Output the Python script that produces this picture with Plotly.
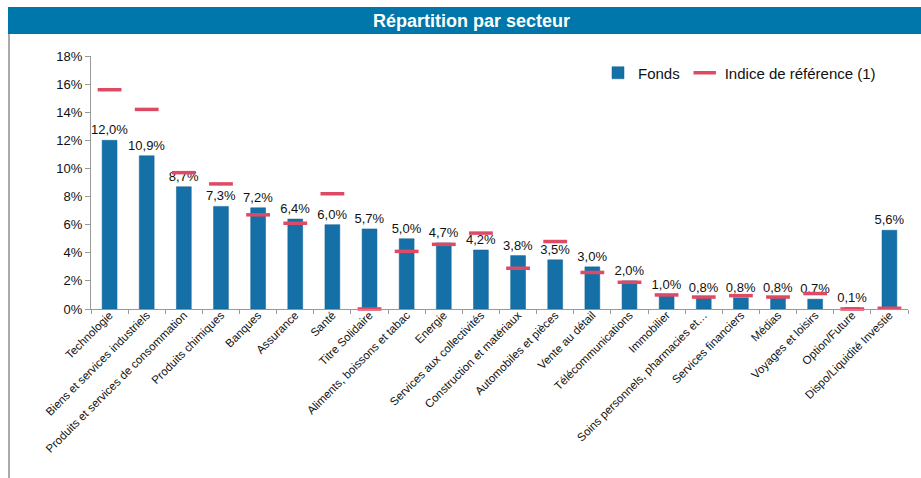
import plotly.graph_objects as go

categories = [
    "Technologie", "Biens et services industriels", "Produits et services de consommation",
    "Produits chimiques", "Banques", "Assurance", "Santé", "Titre Solidaire",
    "Aliments, boissons et tabac", "Energie", "Services aux collectivités",
    "Construction et matériaux", "Automobiles et pièces", "Vente au détail",
    "Télécommunications", "Immobilier", "Soins personnels, pharmacies et…",
    "Services financiers", "Médias", "Voyages et loisirs", "Option/Future",
    "Dispo/Liquidité Investie",
]
fonds = [12.0, 10.9, 8.7, 7.3, 7.2, 6.4, 6.0, 5.7, 5.0, 4.7, 4.2, 3.8, 3.5, 3.0, 2.0,
         1.0, 0.8, 0.8, 0.8, 0.7, 0.1, 5.6]
indice = [15.6, 14.2, 9.7, 8.9, 6.7, 6.1, 8.2, 0.0, 4.1, 4.6, 5.4, 2.9, 4.8, 2.6, 1.9,
          1.0, 0.85, 0.95, 0.85, 1.1, 0.0, 0.05]
y_ticks = [0, 2, 4, 6, 8, 10, 12, 14, 16, 18]
y_ticktext = [f"{v}%" for v in y_ticks]

FONT = "Liberation Sans, Arial, sans-serif"
labels = [f"{v:.1f}".replace(".", ",") + "%" for v in fonds]

fig = go.Figure()
fig.add_trace(go.Bar(
    x=categories, y=fonds, name="Fonds", width=0.4,
    marker=dict(color="#1670A8", line=dict(color="#0E5F93", width=0.5)),
    text=labels, textposition="outside", cliponaxis=False, constraintext="none",
    textfont=dict(family=FONT, size=13, color="#111111"),
))
fig.add_trace(go.Scatter(
    x=categories, y=indice, name="Indice de référence (1)", mode="markers",
    marker=dict(symbol="line-ew", size=17, line=dict(color="#DE4A64", width=3.5)),
    cliponaxis=False,
))

L, R, T, B = 91, 13, 56, 169
W, H = 921, 478
pw, ph = W - L - R, H - T - B


def px(x):
    return (x - L) / pw


def py(y):
    return (H - B - y) / ph


fig.update_layout(
    width=W, height=H,
    margin=dict(l=L, r=R, t=T, b=B, pad=0),
    paper_bgcolor="white", plot_bgcolor="white",
    font=dict(family=FONT, size=13, color="#111111"),
    showlegend=True,
    legend=dict(orientation="h", x=px(598), y=py(73), yanchor="middle", xanchor="left",
                font=dict(size=15), bgcolor="rgba(0,0,0,0)", itemwidth=30, tracegroupgap=0),
    bargap=0.6,
    xaxis=dict(type="category", range=[-0.5, len(categories) - 0.5], tickangle=-45,
               showline=True, linecolor="#999999",
               ticks="outside", tickson="boundaries", ticklen=4, tickcolor="#999999",
               ticklabelstandoff=-6,
               tickfont=dict(size=11.5, color="#111111"), showgrid=False, zeroline=False),
    yaxis=dict(range=[0, 18], tickmode="array", tickvals=y_ticks, ticktext=y_ticktext,
               showline=True, linecolor="#999999", ticks="outside", ticklen=5,
               tickcolor="#999999", showgrid=False, zeroline=False,
               tickfont=dict(size=13, color="#111111")),
    shapes=[
        dict(type="rect", xref="paper", yref="paper", x0=px(8), x1=px(921), y0=py(34), y1=py(7),
             fillcolor="#0077AA", line=dict(width=0), layer="above"),
        dict(type="line", xref="paper", yref="paper", x0=px(9), x1=px(9), y0=py(34), y1=py(478),
             line=dict(color="#AAAAAA", width=2)),
    ],
    annotations=[
        dict(text="<b>Répartition par secteur</b>", xref="paper", yref="paper",
             x=px(471), y=py(21), xanchor="center", yanchor="middle", showarrow=False,
             font=dict(family=FONT, size=18, color="white")),
    ],
)

fig.write_html("out.html")
